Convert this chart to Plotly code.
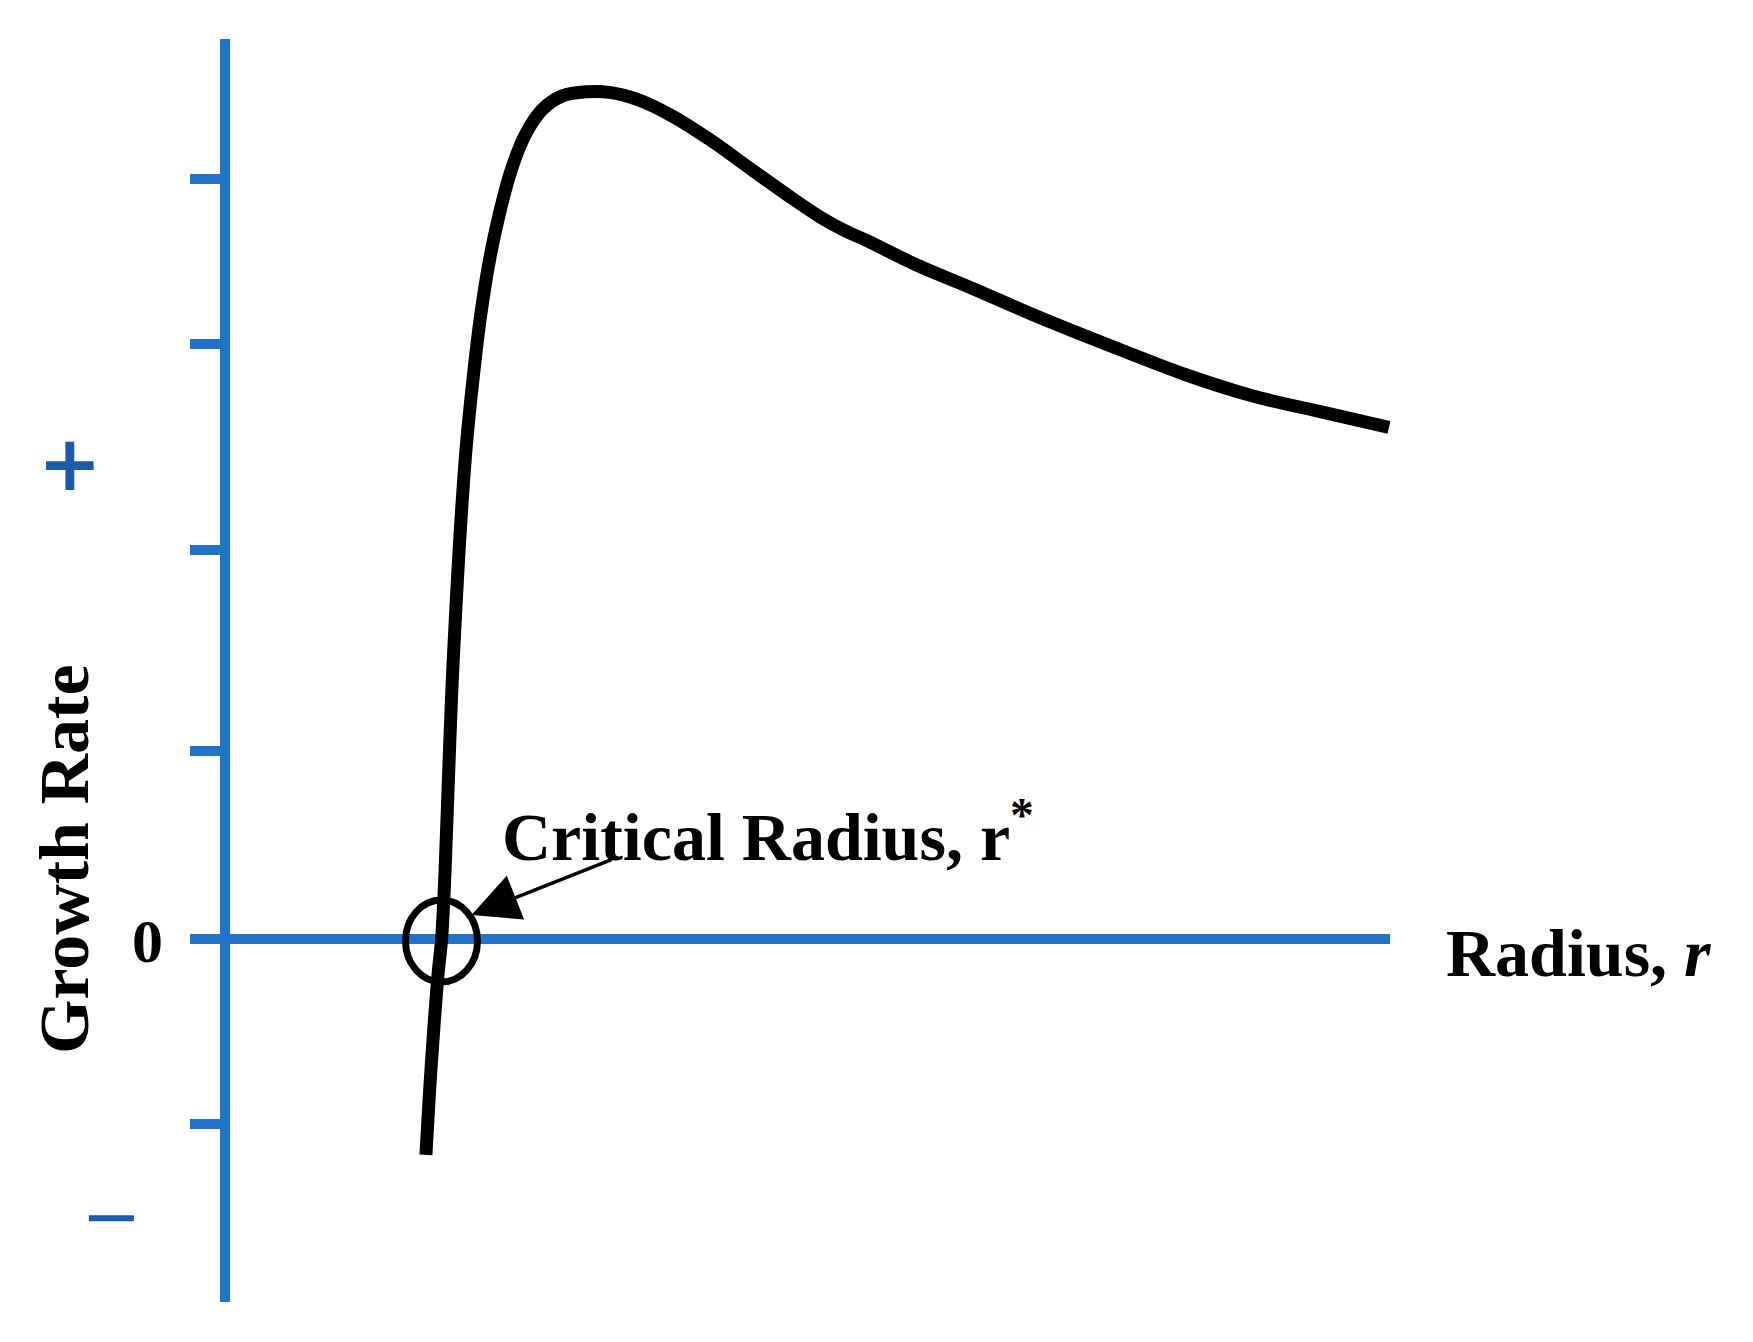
import plotly.graph_objects as go

# ---- data (arbitrary units: radius on x, growth rate on y) ----
radius = [2.009, 2.043, 2.088, 2.132, 2.166, 2.200, 2.233, 2.267, 2.311, 2.356,
          2.412, 2.479, 2.557, 2.647, 2.747, 2.870, 3.005, 3.172, 3.374, 3.619,
          3.843, 4.122, 4.458, 4.849, 5.240, 5.632, 5.967, 6.191, 6.414, 6.917,
          7.476, 8.147, 8.930, 9.601, 10.271, 10.942, 11.640]
growth_rate = [-2.159, -1.566, -0.895, -0.336, -0.001, 0.670, 1.564, 2.459, 3.353, 4.135,
               4.918, 5.589, 6.240, 6.800, 7.266, 7.713, 8.048, 8.294, 8.431, 8.472,
               8.466, 8.396, 8.238, 7.993, 7.713, 7.434, 7.210, 7.087, 6.986, 6.740,
               6.506, 6.215, 5.902, 5.645, 5.432, 5.276, 5.115]
ytick_vals = [7.60, 5.95, 3.89, 1.88, 0.0, -1.85]
critical_radius = 2.165

BLUE = "#2172C9"
SIGN_BLUE = "#1D5BAA"
FONT = "Liberation Serif"

# page body has an 8px margin in the browser; compensate
BODY = 8
W, H = 1753 - 2 * BODY, 1342 - 2 * BODY
PL, PT, PW, PH = 190, 39, 1200, 1263          # plot area in window pixels
ML, MT = PL - BODY, PT - BODY
MR, MB = W - ML - PW, H - MT - PH
x_range = [-0.35, 11.65]
y_range = [-3.63, 9.0]


def px(xw):
    return (xw - PL) / PW


def py(yw):
    return (PT + PH - yw) / PH


fig = go.Figure()
fig.add_trace(go.Scatter(
    x=radius, y=growth_rate, mode="lines",
    line=dict(color="black", width=13, shape="spline", smoothing=1.0),
    hoverinfo="skip", showlegend=False, cliponaxis=False,
))

# circle around the critical radius
fig.add_shape(type="circle", xref="x", yref="y",
              x0=critical_radius - 0.36, x1=critical_radius + 0.36,
              y0=-0.43, y1=0.39,
              line=dict(color="black", width=7))

annotations = [
    dict(x=critical_radius + 0.30, y=0.24, ax=3.88, ay=0.80, xref="x", yref="y",
         axref="x", ayref="y", text="", showarrow=True, arrowhead=2,
         arrowsize=2.7, arrowwidth=3.5, arrowcolor="black", standoff=0),
    dict(x=px(500), y=py(832), xref="paper", yref="paper", xanchor="left", yanchor="middle",
         text="<b>Critical Radius, r<sup>*</sup></b>", showarrow=False,
         font=dict(family=FONT, size=68, color="black")),
    dict(x=px(1578), y=py(953), xref="paper", yref="paper", xanchor="center", yanchor="middle",
         text="<b>Radius, <i>r</i></b>", showarrow=False,
         font=dict(family=FONT, size=68, color="black")),
    dict(x=px(147), y=py(941), xref="paper", yref="paper", xanchor="center", yanchor="middle",
         text="<b>0</b>", showarrow=False,
         font=dict(family=FONT, size=62, color="black")),
    dict(x=px(70), y=py(463), xref="paper", yref="paper", xanchor="center", yanchor="middle",
         text="<b>+</b>", showarrow=False,
         font=dict(family="DejaVu Sans", size=76, color=SIGN_BLUE)),
    dict(x=px(111), y=py(1216), xref="paper", yref="paper", xanchor="center", yanchor="middle",
         text="\u2212", showarrow=False,
         font=dict(family="DejaVu Sans", size=72, color=SIGN_BLUE)),
    dict(x=px(64), y=py(860), xref="paper", yref="paper", xanchor="center", yanchor="middle",
         text="<b>Growth Rate</b>", textangle=-90, showarrow=False,
         font=dict(family=FONT, size=70, color="black")),
]

y_axis_pos = (0 - x_range[0]) / (x_range[1] - x_range[0])

fig.update_layout(
    width=W, height=H,
    margin=dict(l=ML, r=MR, t=MT, b=MB, pad=0),
    paper_bgcolor="white", plot_bgcolor="white",
    showlegend=False,
    annotations=annotations,
    xaxis=dict(range=x_range, showgrid=False, showticklabels=False, ticks="",
               showline=False, zeroline=True, zerolinecolor=BLUE, zerolinewidth=10,
               fixedrange=True),
    yaxis=dict(range=y_range, showgrid=False, showticklabels=False,
               anchor="free", position=y_axis_pos, side="left",
               ticks="outside", tickmode="array", tickvals=ytick_vals,
               ticklen=35, tickwidth=10, tickcolor=BLUE,
               showline=False, zeroline=True, zerolinecolor=BLUE, zerolinewidth=10,
               fixedrange=True),
)

fig.write_html("out.html")
